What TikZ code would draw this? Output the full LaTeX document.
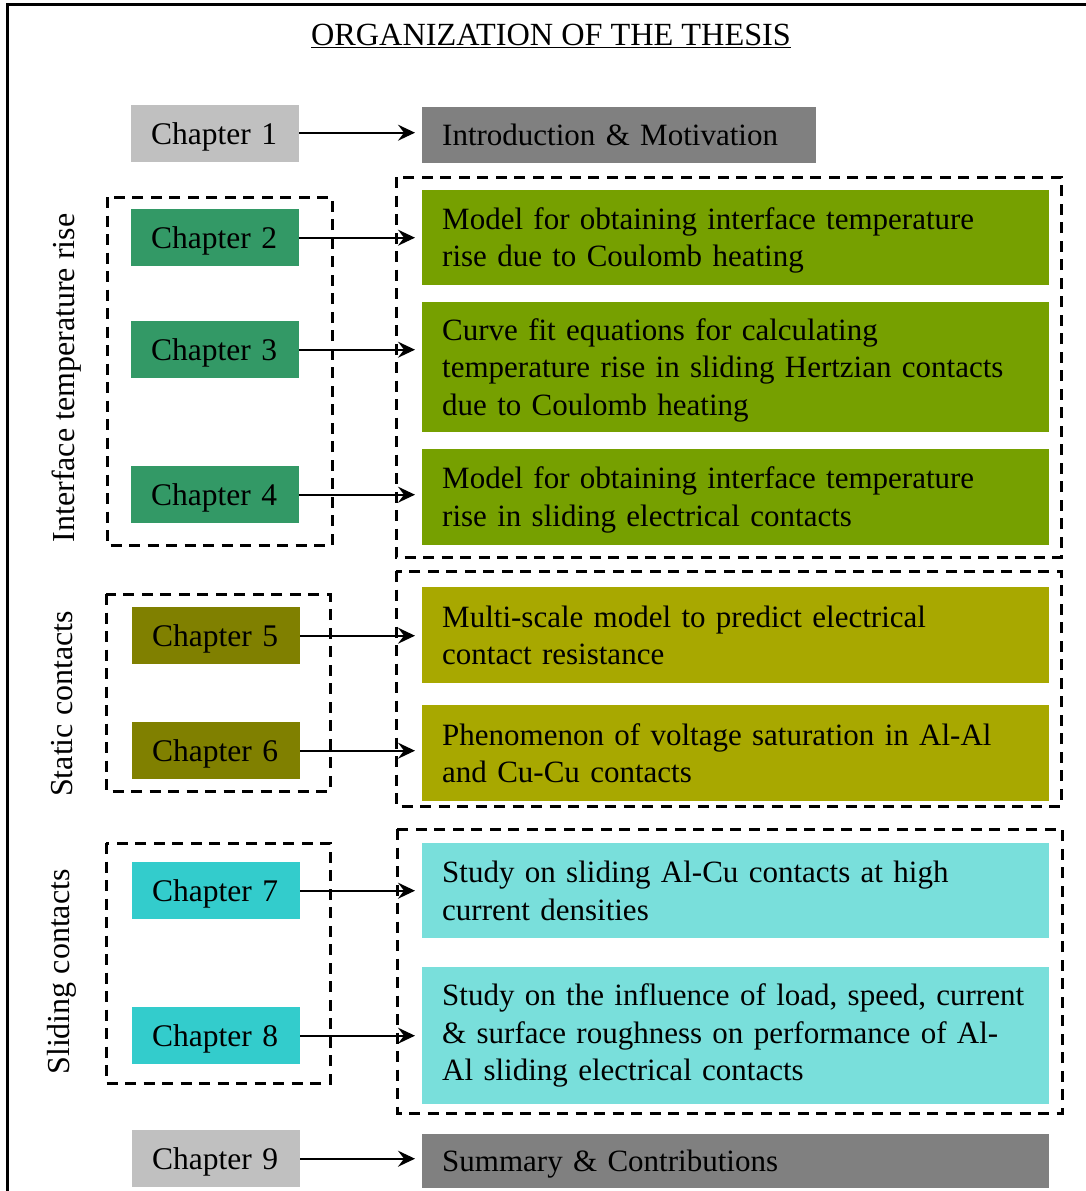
\documentclass[tikz,border=0pt]{standalone}
\usepackage{fontspec}
\setmainfont{Liberation Serif}
\usetikzlibrary{arrows.meta}
\definecolor{cgrayL}{HTML}{C0C0C0}
\definecolor{cgrayD}{HTML}{808080}
\definecolor{cgreen}{HTML}{339966}
\definecolor{cgreenbox}{HTML}{76A000}
\definecolor{colive}{HTML}{808000}
\definecolor{cyellowbox}{HTML}{A8A800}
\definecolor{ccyan}{HTML}{33CCCC}
\definecolor{ccyanbox}{HTML}{79DFDB}
\newcommand{\lowtext}[1]{\raisebox{-3pt}[\height][\depth]{\begin{tabular}{@{}l@{}}#1\end{tabular}}}
\begin{document}
\begin{tikzpicture}[x=1pt,y=-1pt,
  every node/.style={font=\fontsize{31}{37.5}\selectfont},
  chapbox/.style={anchor=north west,text width=128pt,inner xsep=20pt,minimum height=57pt,inner ysep=0pt,align=left,text depth=0pt,font=\fontsize{31.5}{37.5}\selectfont},
  descbox/.style={anchor=north west,text width=587pt,inner xsep=20pt,inner ysep=0pt,align=left},
  grpbox/.style={draw=black,line width=3pt,dash pattern=on 11pt off 7.5pt},
  conn/.style={line width=1.8pt,-{Stealth[length=17pt,width=16pt,inset=6pt]}},
  sidelabel/.style={rotate=90,anchor=center,font=\fontsize{32}{38}\selectfont}
]
\clip (0,0) rectangle (1086,1191);
\fill[white] (0,0) rectangle (1086,1191);
\draw[line width=2.5pt] (7.5,4.5) rectangle (1110,1220);

\node[font=\fontsize{32.3}{38}\selectfont] (title) at (551,36) {\underline{ORGANIZATION OF THE THESIS}};

\coordinate (tipx) at (415,0);

% Chapter 1
\node[chapbox,fill=cgrayL] (ch1) at (131,105) {Chapter 1};
\node[descbox,fill=cgrayD,text width=354pt,minimum height=56pt] (intro) at (422,107) {Introduction \& Motivation};
\draw[conn] ([yshift=1pt]ch1.east) -- ([yshift=1pt]ch1.east -| tipx);

% Group 1
\draw[grpbox] (107,197) rectangle (332,545);
\draw[grpbox] (396,177) rectangle (1061,557);
\node[sidelabel] (lab1) at (67,378) {Interface temperature rise};
\node[chapbox,fill=cgreen] (ch2) at (131,209) {Chapter 2};
\node[chapbox,fill=cgreen] (ch3) at (131,321) {Chapter 3};
\node[chapbox,fill=cgreen] (ch4) at (131,466) {Chapter 4};
\node[descbox,fill=cgreenbox,minimum height=95pt] (g1) at (422,190) {\lowtext{Model for obtaining interface temperature\\rise due to Coulomb heating}};
\node[descbox,fill=cgreenbox,minimum height=130pt] (g2) at (422,302) {\lowtext{Curve fit equations for calculating\\temperature rise in sliding Hertzian contacts\\due to Coulomb heating}};
\node[descbox,fill=cgreenbox,minimum height=96pt] (g3) at (422,449) {\lowtext{Model for obtaining interface temperature\\rise in sliding electrical contacts}};
\draw[conn] (ch2.east) -- (ch2.east -| tipx);
\draw[conn] (ch3.east) -- (ch3.east -| tipx);
\draw[conn] (ch4.east) -- (ch4.east -| tipx);

% Group 2
\draw[grpbox] (106,594) rectangle (330,791);
\draw[grpbox] (396,571) rectangle (1061,806);
\node[sidelabel] (lab2) at (62,704) {Static contacts};
\node[chapbox,fill=colive] (ch5) at (132,607) {Chapter 5};
\node[chapbox,fill=colive] (ch6) at (132,722) {Chapter 6};
\node[descbox,fill=cyellowbox,minimum height=96pt] (y1) at (422,587) {Multi-scale model to predict electrical\\contact resistance};
\node[descbox,fill=cyellowbox,minimum height=96pt] (y2) at (422,705) {Phenomenon of voltage saturation in Al-Al\\and Cu-Cu contacts};
\draw[conn] (ch5.east) -- (ch5.east -| tipx);
\draw[conn] (ch6.east) -- (ch6.east -| tipx);

% Group 3
\draw[grpbox] (106,843) rectangle (330,1083);
\draw[grpbox] (397,829) rectangle (1062,1113);
\node[sidelabel] (lab3) at (62,972) {Sliding contacts};
\node[chapbox,fill=ccyan] (ch7) at (132,862) {Chapter 7};
\node[chapbox,fill=ccyan] (ch8) at (132,1007) {Chapter 8};
\node[descbox,fill=ccyanbox,minimum height=95pt] (c1) at (422,843) {Study on sliding Al-Cu contacts at high\\current densities};
\node[descbox,fill=ccyanbox,minimum height=137pt] (c2) at (422,967) {Study on the influence of load, speed, current\\\& surface roughness on performance of Al-\\Al sliding electrical contacts};
\draw[conn] (ch7.east) -- (ch7.east -| tipx);
\draw[conn] (ch8.east) -- (ch8.east -| tipx);

% Chapter 9
\node[chapbox,fill=cgrayL] (ch9) at (132,1130) {Chapter 9};
\node[descbox,fill=cgrayD,minimum height=54pt,text depth=0pt] (sum) at (422,1134) {Summary \& Contributions};
\draw[conn] (ch9.east) -- (ch9.east -| tipx);
\end{tikzpicture}
\end{document}
